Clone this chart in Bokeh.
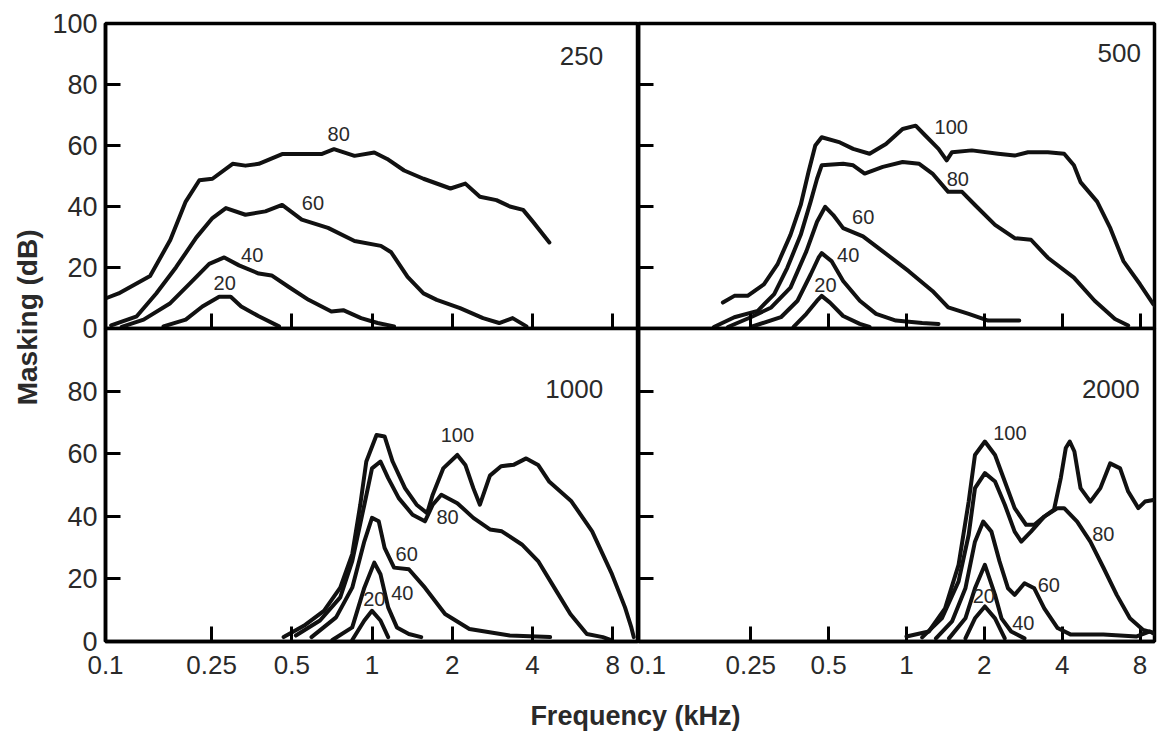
import math
from bokeh.plotting import figure
from bokeh.models import FixedTicker, Range1d, GridPlot
from bokeh.core.properties import value
from bokeh.embed import file_html
from bokeh.resources import INLINE

FONT = "Liberation Sans"
INK = "#111111"
TXT = "#2a2a2a"

# ---------------- data ----------------
x_ticks = [0.1, 0.25, 0.5, 1, 2, 4, 8]
x_tick_labels = ["0.1", "0.25", "0.5", "1", "2", "4", "8"]
y_ticks = [0, 20, 40, 60, 80, 100]
y_tick_labels = ["0", "20", "40", "60", "80", "100"]
panel_titles = ["250", "500", "1000", "2000"]

# masker 250 Hz
f250_80 = [0.101, 0.112, 0.147, 0.175, 0.2, 0.225, 0.252, 0.30, 0.335, 0.376, 0.46, 0.545, 0.646, 0.72, 0.86, 1.02, 1.14, 1.32, 1.56, 1.97, 2.24, 2.54, 2.93, 3.29, 3.69, 4.0, 4.63]
m250_80 = [10, 11.5, 17.2, 29, 41.6, 48.6, 49.1, 54, 53.4, 54, 57.2, 57.2, 57.2, 58.8, 56.6, 57.7, 55.6, 51.8, 49.1, 45.9, 47.5, 43.2, 42.1, 40, 38.9, 35.2, 28.2]
f250_60 = [0.105, 0.131, 0.155, 0.184, 0.219, 0.252, 0.283, 0.335, 0.398, 0.46, 0.545, 0.684, 0.86, 1.08, 1.18, 1.36, 1.56, 1.75, 2.14, 2.61, 3.0, 3.37, 3.8]
m250_60 = [1, 4, 11.5, 20.1, 29.8, 36.2, 39.5, 37.3, 38.4, 40.5, 35.7, 33, 28.7, 27.1, 25, 16.9, 11.5, 9.4, 6.7, 3.4, 1.8, 3.4, 0.7]
f250_40 = [0.115, 0.139, 0.175, 0.207, 0.245, 0.279, 0.317, 0.376, 0.42, 0.486, 0.578, 0.704, 0.78, 0.91, 1.05, 1.21]
m250_40 = [0.5, 2.9, 8.3, 14.7, 21.2, 23.3, 20.7, 18, 17.4, 13.7, 9.4, 5.6, 6, 3.4, 1.8, 0.7]
f250_20 = [0.165, 0.2, 0.231, 0.267, 0.295, 0.323, 0.376, 0.448]
m250_20 = [0.7, 2.9, 7.2, 10.4, 10.4, 7.2, 4, 0.7]

# masker 500 Hz
f500_100 = [0.195, 0.216, 0.243, 0.281, 0.317, 0.356, 0.39, 0.418, 0.444, 0.47, 0.553, 0.622, 0.72, 0.833, 0.966, 1.085, 1.185, 1.33, 1.43, 1.5, 1.79, 2.26, 2.62, 2.95, 3.52, 4.07, 4.44, 4.71, 5.46, 6.14, 6.9, 8.0, 9.0, 10.06]
m500_100 = [8.5, 10.7, 10.7, 14.5, 21, 30.7, 40.5, 51.3, 60, 62.7, 61, 58.9, 57.3, 60.5, 65.4, 66.5, 63.2, 58.9, 55.1, 57.8, 58.4, 57.3, 56.7, 57.8, 57.8, 57.3, 53.5, 48, 41.6, 32.9, 22.1, 14.5, 8, 4.2]
f500_80 = [0.18, 0.216, 0.266, 0.308, 0.346, 0.39, 0.426, 0.451, 0.47, 0.569, 0.622, 0.689, 0.81, 0.966, 1.12, 1.26, 1.45, 1.64, 1.84, 2.2, 2.62, 3.03, 3.52, 4.44, 5.34, 6.4, 7.2]
m500_80 = [0.5, 3.7, 5.8, 11.3, 19.9, 30.7, 41.6, 49.1, 53.5, 54, 53.5, 50.8, 53, 54.6, 54, 50.8, 44.8, 44.8, 40.5, 34, 29.6, 29.1, 23.2, 16.7, 9.1, 3.1, 1]
f500_60 = [0.204, 0.25, 0.3, 0.356, 0.41, 0.451, 0.485, 0.521, 0.569, 0.679, 0.81, 1.02, 1.26, 1.45, 1.74, 2.07, 2.73]
m500_60 = [0.5, 3.7, 6.9, 13.4, 25.3, 35, 39.9, 37.2, 32.9, 30.2, 25.3, 18.8, 12.3, 6.9, 4.8, 2.6, 2.6]
f500_40 = [0.25, 0.327, 0.379, 0.426, 0.457, 0.47, 0.513, 0.569, 0.66, 0.763, 0.91, 1.15, 1.33]
m500_40 = [0.5, 3.7, 9.1, 17.7, 23.2, 24.7, 22.1, 15.6, 9.1, 4.8, 2.6, 1.8, 1.5]
f500_20 = [0.366, 0.41, 0.451, 0.47, 0.506, 0.569, 0.66, 0.72]
m500_20 = [0.5, 4.8, 9.1, 10.7, 8.5, 4.1, 1.5, 0.5]

# masker 1000 Hz
f1000_100 = [0.466, 0.555, 0.66, 0.76, 0.843, 0.904, 0.952, 1.04, 1.115, 1.195, 1.33, 1.47, 1.61, 1.69, 1.85, 2.09, 2.24, 2.4, 2.54, 2.77, 3.05, 3.41, 3.79, 4.2, 4.63, 5.6, 6.7, 7.95, 8.9, 9.4, 9.6]
m1000_100 = [1.4, 5, 9.8, 17.2, 27.9, 43.8, 57.5, 66, 65.5, 57.5, 49, 43.7, 41, 46.9, 55.3, 59.6, 56.4, 49, 43.7, 53, 56, 56.5, 58.5, 56.4, 51, 44.8, 35.2, 21.5, 10.9, 4.5, 1.4]
f1000_80 = [0.518, 0.638, 0.76, 0.843, 0.936, 1.0, 1.076, 1.15, 1.26, 1.42, 1.58, 1.69, 1.82, 2.09, 2.4, 2.77, 3.07, 3.65, 4.2, 4.83, 5.55, 6.4, 7.35, 7.85]
m1000_80 = [1.9, 6.7, 14.1, 25.7, 43.7, 55.3, 57.5, 52.2, 45.8, 40.5, 38.4, 43.7, 46.9, 44.2, 39.5, 35.8, 35.2, 31, 25.7, 17.2, 8.8, 2.4, 1.4, 0.5]
f1000_60 = [0.593, 0.733, 0.843, 0.936, 1.0, 1.06, 1.115, 1.21, 1.375, 1.58, 1.88, 2.32, 3.29, 4.66]
m1000_60 = [1.4, 7.7, 17.2, 32, 39.5, 38.4, 29.9, 23.6, 23.1, 17.2, 8.8, 4, 1.9, 1.4]
f1000_40 = [0.71, 0.843, 0.936, 1.02, 1.076, 1.15, 1.24, 1.375, 1.53]
m1000_40 = [0.5, 4.5, 17.2, 25.2, 21.5, 10.9, 4.5, 2.4, 1.4]
f1000_20 = [0.843, 0.936, 1.0, 1.076, 1.15]
m1000_20 = [0.5, 6.7, 9.8, 6.7, 1.4]

# masker 2000 Hz
f2000_100 = [1.0, 1.22, 1.41, 1.59, 1.74, 1.84, 2.01, 2.2, 2.4, 2.62, 2.9, 3.12, 3.41, 3.72, 3.95, 4.13, 4.28, 4.46, 4.71, 5.14, 5.62, 6.13, 6.7, 7.2, 7.88, 8.36, 9.0]
m2000_100 = [1.6, 3.2, 10.6, 24.5, 44.7, 59.6, 63.9, 59.6, 51.1, 42.6, 37.3, 37.3, 39.9, 42.1, 52.2, 61.8, 63.9, 60.7, 49, 44.7, 49, 56.9, 55.3, 47.9, 42.6, 44.7, 45.2]
f2000_80 = [1.15, 1.37, 1.59, 1.74, 1.84, 2.01, 2.2, 2.4, 2.62, 2.78, 3.03, 3.41, 3.84, 4.07, 4.57, 5.14, 5.79, 6.5, 7.31, 8.23, 9.26, 10.1]
m2000_80 = [1.3, 7.4, 19.2, 34.1, 49, 53.8, 51.1, 43.7, 35.1, 31.9, 35.1, 39.9, 42.6, 42.6, 38.3, 31.9, 23.4, 14.9, 7.4, 3.7, 2.5, 1]
f2000_60 = [1.3, 1.5, 1.69, 1.84, 1.98, 2.13, 2.29, 2.47, 2.62, 2.86, 3.12, 3.41, 3.84, 4.32, 5.77, 7.77, 8.74, 9.8]
m2000_60 = [1, 6.4, 17, 31.9, 38.3, 35.1, 25.6, 17, 14.9, 18.6, 17, 10.6, 4.3, 2.2, 2.2, 1.6, 3.2, 1]
f2000_40 = [1.46, 1.69, 1.84, 2.01, 2.2, 2.33, 2.54, 2.86]
m2000_40 = [1, 7.4, 17, 24.5, 14.9, 7.4, 3.2, 1]
f2000_20 = [1.69, 1.84, 2.01, 2.2, 2.4]
m2000_20 = [1, 7.4, 11.2, 7.4, 1]

# ---------------- layout constants (pixels) ----------------
STRIP_W = 48          # column holding the y title
LEFT_B = 57           # room for y tick labels
FW_L = 533            # left panels frame width
OVL_X = 12            # right figures reach left over the panel boundary (negative margin)
FW_R = 516            # right panels frame width actually drawn
RIGHT_B = 2
TOP_B = 23
FH_T = 305
OVL_Y = 15            # lower figures reach up over the panel boundary (negative margin)
FH_B = 313
BOT_B = 44
XSTRIP_H = 31
XR_L = (0.1, 10.0)
XR_R = (0.092, 9.1)
TICK_LEN = 15


def style_axis(ax, ticks, labels, show, standoff, size="27px"):
    ax.ticker = FixedTicker(ticks=ticks, minor_ticks=[])
    ax.major_label_overrides = {t: (l if show else "") for t, l in zip(ticks, labels)}
    ax.major_tick_in = TICK_LEN
    ax.major_tick_out = 0
    ax.minor_tick_in = 0
    ax.minor_tick_out = 0
    ax.major_tick_line_width = 3
    ax.major_tick_line_color = "black"
    ax.axis_line_width = 3.5
    ax.axis_line_color = "black"
    ax.major_label_text_font = FONT
    ax.major_label_text_color = TXT
    ax.major_label_text_font_size = size if show else "0px"
    ax.major_label_standoff = standoff if show else 0


def make_panel(xr, fw, fh, lb, rb, tb, bb, margin, border_fill):
    p = figure(x_axis_type="log", x_range=Range1d(*xr), y_range=Range1d(0, 100),
               frame_width=fw, frame_height=fh,
               min_border_left=lb, min_border_right=rb, min_border_top=tb, min_border_bottom=bb,
               margin=margin,
               toolbar_location=None, tools="", output_backend="svg",
               background_fill_color="white", border_fill_color=border_fill,
               outline_line_color="black", outline_line_width=3.5)
    p.xgrid.visible = False
    p.ygrid.visible = False
    return p


def add_curves(p, curves, labels, title, title_pos):
    for f, m in curves:
        p.line(f, m, line_width=4, line_color=INK, line_join="round", line_cap="round")
    p.text(x=[l[1] for l in labels], y=[l[2] for l in labels], text=[l[0] for l in labels],
           text_font=value(FONT), text_font_size="20px", text_color=TXT,
           text_align="center", text_baseline="middle")
    p.text(x=[title_pos[0]], y=[title_pos[1]], text=[title],
           text_font=value(FONT), text_font_size="26px", text_color=TXT,
           text_align="right", text_baseline="middle")


# Figures pulled left/up by a negative margin lose that amount from their size in the
# layout, so it is added back to the requested frame size.
FW_R_REQ = FW_R + OVL_X
FH_B_REQ = FH_B + OVL_Y

# top-left : 250  (its bottom border holds the shared "0" label)
tl = make_panel(XR_L, FW_L, FH_T, LEFT_B, 0, TOP_B, OVL_Y, (0, 0, 0, 0), "white")
style_axis(tl.xaxis[0], x_ticks, x_tick_labels, False, 0)
style_axis(tl.yaxis[0], y_ticks, y_tick_labels, True, 8)
add_curves(tl, [(f250_80, m250_80), (f250_60, m250_60), (f250_40, m250_40), (f250_20, m250_20)],
           [("80", 0.75, 63.9), ("60", 0.60, 41.3), ("40", 0.355, 24.2), ("20", 0.28, 14.8)],
           panel_titles[0], (7.37, 89.4))

# top-right : 500
tr = make_panel(XR_R, FW_R_REQ, FH_T, OVL_X, RIGHT_B, TOP_B, OVL_Y, (0, 0, 0, -OVL_X), None)
style_axis(tr.xaxis[0], x_ticks[1:], x_tick_labels[1:], False, 0)
style_axis(tr.yaxis[0], y_ticks, y_tick_labels, False, 0)
add_curves(tr, [(f500_100, m500_100), (f500_80, m500_80), (f500_60, m500_60), (f500_40, m500_40), (f500_20, m500_20)],
           [("100", 1.49, 66.2), ("80", 1.58, 49.0), ("60", 0.68, 36.7), ("40", 0.595, 24.0), ("20", 0.486, 14.3)],
           panel_titles[1], (8.06, 90.3))

# bottom-left : 1000
bl = make_panel(XR_L, FW_L, FH_B_REQ, LEFT_B, 0, 0, BOT_B, (-OVL_Y, 0, 0, 0), None)
style_axis(bl.xaxis[0], x_ticks, x_tick_labels, True, 14, "26px")
style_axis(bl.yaxis[0], y_ticks[:-1], y_tick_labels[:-1], True, 8)
add_curves(bl, [(f1000_100, m1000_100), (f1000_80, m1000_80), (f1000_60, m1000_60), (f1000_40, m1000_40), (f1000_20, m1000_20)],
           [("100", 2.09, 66.0), ("80", 1.92, 39.7), ("60", 1.35, 27.9), ("40", 1.30, 15.6), ("20", 1.02, 13.7)],
           panel_titles[2], (7.37, 80.6))

# bottom-right : 2000
br = make_panel(XR_R, FW_R_REQ, FH_B_REQ, OVL_X, RIGHT_B, 0, BOT_B, (-OVL_Y, 0, 0, -OVL_X), None)
style_axis(br.xaxis[0], x_ticks, x_tick_labels, True, 14, "26px")
br.xaxis[0].major_tick_in = 0          # tick marks drawn by the short grid below (none at 0.1)
style_axis(br.yaxis[0], y_ticks, y_tick_labels, False, 0)
g = br.xgrid[0]
g.visible = True
g.ticker = FixedTicker(ticks=x_ticks[1:], minor_ticks=[])
g.cross_bounds = (0, TICK_LEN * 100.0 / FH_B)
g.grid_line_color = "black"
g.grid_line_width = 3
add_curves(br, [(f2000_100, m2000_100), (f2000_80, m2000_80), (f2000_60, m2000_60), (f2000_40, m2000_40), (f2000_20, m2000_20)],
           [("100", 2.51, 66.5), ("80", 5.77, 34.2), ("60", 3.55, 17.9), ("40", 2.83, 5.8), ("20", 1.99, 14.4)],
           panel_titles[3], (7.98, 80.6))

# axis-title strips
YS_H = (TOP_B + FH_T + OVL_Y) + (FH_B + BOT_B)
ys = figure(width=STRIP_W, height=YS_H, x_range=Range1d(0, STRIP_W), y_range=Range1d(0, YS_H),
            min_border=0, toolbar_location=None, tools="", output_backend="svg",
            outline_line_color=None, x_axis_location=None, y_axis_location=None)
ys.xgrid.grid_line_color = None
ys.ygrid.grid_line_color = None
ys.text(x=[27], y=[YS_H - 325], text=["Masking (dB)"], angle=math.pi / 2,
        text_align="center", text_baseline="middle", text_font=value(FONT),
        text_font_size="28px", text_font_style="bold", text_color=TXT)

XS_W = STRIP_W + (LEFT_B + FW_L) + (FW_R + RIGHT_B)
xs = figure(width=XS_W, height=XSTRIP_H, x_range=Range1d(0, XS_W), y_range=Range1d(0, XSTRIP_H),
            min_border=0, toolbar_location=None, tools="", output_backend="svg",
            outline_line_color=None, x_axis_location=None, y_axis_location=None)
xs.xgrid.grid_line_color = None
xs.ygrid.grid_line_color = None
xs.text(x=[636], y=[XSTRIP_H / 2], text=["Frequency (kHz)"],
        text_align="center", text_baseline="middle", text_font=value(FONT),
        text_font_size="27px", text_font_style="bold", text_color=TXT)

grid = GridPlot(children=[(ys, 0, 0, 2, 1), (tl, 0, 1), (tr, 0, 2), (bl, 1, 1), (br, 1, 2), (xs, 2, 0, 1, 3)],
                toolbar_location=None)

open("out.html", "w").write(file_html(grid, INLINE))
